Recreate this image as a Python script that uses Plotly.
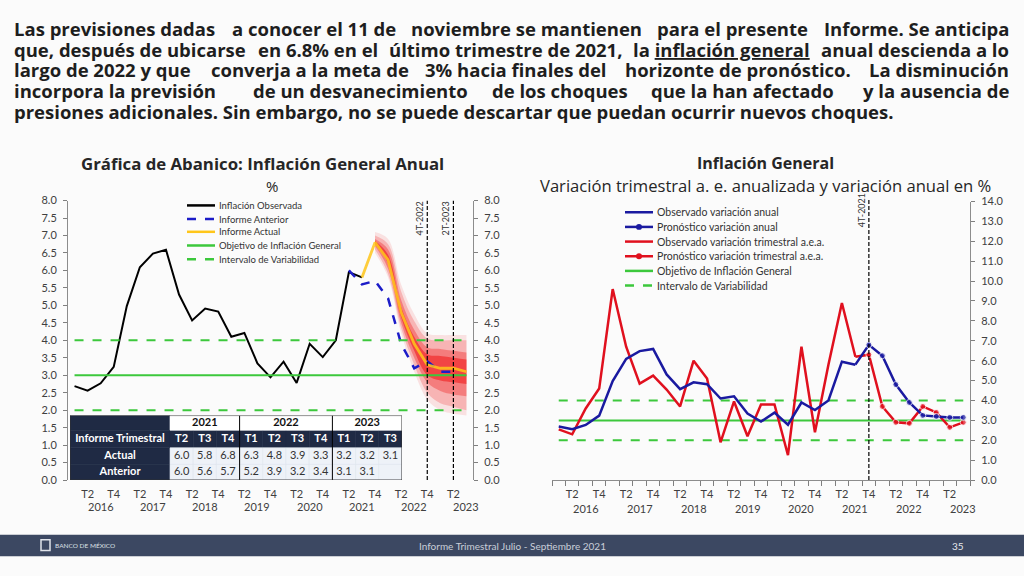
import plotly.graph_objects as go

W, H = 1024, 576


def px(x):
    return x / W


def py(y):
    return 1 - y / H


# ---------------------------------------------------------------- data
years = ["2016", "2017", "2018", "2019", "2020", "2021", "2022", "2023"]
quarter_names = ["T1", "T2", "T3", "T4"]
periods = [f"{q} {y}" for y in years for q in quarter_names][:31]  # T1 2016 .. T3 2023

# Left chart: annual headline inflation (%)
observed_annual = [2.69, 2.56, 2.77, 3.24, 4.98, 6.09, 6.48, 6.59, 5.31, 4.57, 4.91, 4.82,
                   4.10, 4.21, 3.34, 2.94, 3.39, 2.78, 3.90, 3.52, 4.00, 5.95, 5.80]
table_years = ["2021", "2022", "2023"]
table_year_span = [3, 4, 3]
table_quarters = ["T2", "T3", "T4", "T1", "T2", "T3", "T4", "T1", "T2", "T3"]
table_row_labels = ["Informe Trimestral", "Actual", "Anterior"]
report_actual = [6.0, 5.8, 6.8, 6.3, 4.8, 3.9, 3.3, 3.2, 3.2, 3.1]
report_previous = [6.0, 5.6, 5.7, 5.2, 3.9, 3.2, 3.4, 3.1, 3.1, None]

fan_glow_low = [6.50, 5.80, 4.20, 3.10, 2.30, 2.00, 1.90, 1.85]
fan_glow_high = [7.10, 6.90, 5.60, 4.75, 4.20, 4.15, 4.15, 4.15]
fan_outer_low = [6.60, 5.90, 4.35, 3.30, 2.50, 2.20, 2.10, 2.00]
fan_outer_high = [7.00, 6.75, 5.40, 4.55, 4.05, 4.00, 4.00, 4.00]
fan_mid_low = [6.70, 6.05, 4.50, 3.50, 2.80, 2.55, 2.45, 2.40]
fan_mid_high = [6.90, 6.60, 5.15, 4.30, 3.80, 3.75, 3.70, 3.65]
fan_inner_low = [6.75, 6.20, 4.65, 3.70, 3.00, 2.85, 2.80, 2.75]
fan_inner_high = [6.85, 6.45, 4.95, 4.10, 3.60, 3.55, 3.50, 3.45]

target_value = 3.0
interval_low = 2.0
interval_high = 4.0

left_marks = ["T4 2022", "T2 2023"]
left_mark_labels = ["4T-2022", "2T-2023"]

# Right chart: quarterly s.a. annualized and annual variation (%)
observed_quarterly = [2.55, 2.30, 3.60, 4.60, 9.60, 6.70, 4.85, 5.25, 4.55, 3.70, 6.00, 5.10,
                      1.90, 3.95, 2.20, 3.80, 3.80, 1.25, 6.70, 2.40, 5.80, 8.90, 6.20]
forecast_annual = [6.80, 6.25, 4.80, 3.90, 3.25, 3.20, 3.15, 3.15]
forecast_quarterly = [6.30, 3.70, 2.90, 2.85, 3.70, 3.40, 2.65, 2.90]
right_mark = "T4 2021"
right_mark_label = "4T-2021"

# ---------------------------------------------------------------- styles
FONT = "Lato, 'Open Sans', sans-serif"
BFONT = "'Open Sans', sans-serif"
TXT = "#262626"
TICK = "#404040"
NAVY = "#1f2a44"
CELL = "#eef2f8"
BLACK = "#000000"
BLUE_DASH = "#1c1cc8"
YELLOW = "#ffc61a"
GREEN = "#3cc83c"
BLUE = "#1a1aa0"
RED = "#e0101e"

fig = go.Figure()

fan_periods = periods[23:]
for lo, hi, alpha in [(fan_glow_low, fan_glow_high, 0.10),
                      (fan_outer_low, fan_outer_high, 0.20),
                      (fan_mid_low, fan_mid_high, 0.30),
                      (fan_inner_low, fan_inner_high, 0.45)]:
    fig.add_trace(go.Scatter(x=fan_periods, y=lo, mode="lines", xaxis="x", yaxis="y",
                             line=dict(width=0, shape="spline"), showlegend=False, hoverinfo="skip"))
    fig.add_trace(go.Scatter(x=fan_periods, y=hi, mode="lines", xaxis="x", yaxis="y",
                             line=dict(width=0, shape="spline"), fill="tonexty",
                             fillcolor=f"rgba(240,0,0,{alpha})", showlegend=False, hoverinfo="skip"))

left_series = [
    dict(name="Inflación Observada", color=BLACK, dash="solid"),
    dict(name="Informe Anterior", color=BLUE_DASH, dash="dash"),
    dict(name="Informe Actual", color=YELLOW, dash="solid"),
    dict(name="Objetivo de Inflación General", color=GREEN, dash="solid"),
    dict(name="Intervalo de Variabilidad", color=GREEN, dash="dash"),
]

for val, s in [(target_value, left_series[3]), (interval_low, left_series[4]), (interval_high, left_series[4])]:
    fig.add_trace(go.Scatter(x=periods, y=[val] * len(periods), mode="lines", xaxis="x", yaxis="y2",
                             line=dict(color=s["color"], width=2, dash=s["dash"]), name=s["name"],
                             showlegend=False))

fig.add_trace(go.Scatter(x=periods[:len(observed_annual)], y=observed_annual, mode="lines",
                         xaxis="x", yaxis="y", line=dict(color=BLACK, width=2),
                         name=left_series[0]["name"], showlegend=False))
fig.add_trace(go.Scatter(x=periods[21:30], y=report_previous[:9], mode="lines",
                         xaxis="x", yaxis="y", line=dict(color=BLUE_DASH, width=2.5, dash="dash"),
                         name=left_series[1]["name"], showlegend=False))
fig.add_trace(go.Scatter(x=periods[22:], y=report_actual[1:], mode="lines", opacity=0.85,
                         xaxis="x", yaxis="y", line=dict(color=YELLOW, width=2.8),
                         name=left_series[2]["name"], showlegend=False))

# ---------------------------------------------------------------- right chart
right_series = [
    dict(name="Observado variación anual", color=BLUE, dash="solid", marker=False),
    dict(name="Pronóstico variación anual", color=BLUE, dash="solid", marker=True),
    dict(name="Observado variación trimestral a.e.a.", color=RED, dash="solid", marker=False),
    dict(name="Pronóstico variación trimestral a.e.a.", color=RED, dash="solid", marker=True),
    dict(name="Objetivo de Inflación General", color=GREEN, dash="solid", marker=False),
    dict(name="Intervalo de Variabilidad", color=GREEN, dash="dash", marker=False),
]

for val, s in [(target_value, right_series[4]), (interval_low, right_series[5]), (interval_high, right_series[5])]:
    fig.add_trace(go.Scatter(x=periods, y=[val] * len(periods), mode="lines", xaxis="x2", yaxis="y3",
                             line=dict(color=s["color"], width=2, dash=s["dash"]), name=s["name"],
                             showlegend=False))

n_obs = len(observed_quarterly)
fig.add_trace(go.Scatter(x=periods[:n_obs], y=observed_quarterly, mode="lines", xaxis="x2", yaxis="y3",
                         line=dict(color=RED, width=2.5), name=right_series[2]["name"], showlegend=False))
fig.add_trace(go.Scatter(x=periods[n_obs - 1:], y=[observed_quarterly[-1]] + forecast_quarterly,
                         mode="lines+markers", xaxis="x2", yaxis="y3",
                         line=dict(color=RED, width=2.5),
                         marker=dict(size=[0] + [6] * len(forecast_quarterly), color=RED),
                         name=right_series[3]["name"], showlegend=False))
fig.add_trace(go.Scatter(x=periods[:n_obs], y=observed_annual, mode="lines", xaxis="x2", yaxis="y3",
                         line=dict(color=BLUE, width=2.5), name=right_series[0]["name"], showlegend=False))
fig.add_trace(go.Scatter(x=periods[n_obs - 1:], y=[observed_annual[-1]] + forecast_annual,
                         mode="lines+markers", xaxis="x2", yaxis="y3",
                         line=dict(color=BLUE, width=2.5),
                         marker=dict(size=[0] + [6] * len(forecast_annual), color=BLUE),
                         name=right_series[1]["name"], showlegend=False))

# ---------------------------------------------------------------- table (own hidden axes x3/y4)
LABEL_UNITS = 4.31                 # width of the label column, in quarter-column units
row_heights = [16, 17, 18, 15]     # Anterior, Actual, Informe Trimestral, years (bottom -> top)
row_edges = [0]
for h in row_heights:
    row_edges.append(row_edges[-1] + h)
row_mid = [(row_edges[i] + row_edges[i + 1]) / 2 for i in range(4)]
nq = len(table_quarters)
col_mid = [i + 0.5 for i in range(nq)]

shapes = []
annotations = []


def cell(x0, x1, r, color, line_color=None):
    shapes.append(dict(type="rect", xref="x3", yref="y4", x0=x0, x1=x1, y0=row_edges[r], y1=row_edges[r + 1],
                       fillcolor=color, line=dict(color=line_color or color, width=0.6), layer="below"))


for r in range(4):
    cell(-LABEL_UNITS, 0, r, NAVY)
for i in range(nq):
    cell(i, i + 1, 2, NAVY)
for i in range(nq):
    cell(i, i + 1, 1, CELL, "#dfe5ee")
    cell(i, i + 1, 0, CELL, "#dfe5ee")
start = 0
year_centres = []
for yname, span in zip(table_years, table_year_span):
    cell(start, start + span, 3, "white", "white")
    year_centres.append(start + span / 2)
    start += span
start = 0
for span in table_year_span[:-1]:
    start += span
    shapes.append(dict(type="line", xref="x3", yref="y4", x0=start, x1=start, y0=0, y1=row_edges[-1],
                       line=dict(color="black", width=1)))
shapes.append(dict(type="rect", xref="x3", yref="y4", x0=-LABEL_UNITS, x1=nq, y0=0, y1=row_edges[-1],
                   line=dict(color="#333333", width=1)))

tfont = dict(family=FONT, size=11)
fmt = lambda v: "" if v is None else f"{v:.1f}"
fig.add_trace(go.Scatter(x=year_centres, y=[row_mid[3]] * len(year_centres), mode="text",
                         text=[f"<b>{y}</b>" for y in table_years], xaxis="x3", yaxis="y4",
                         textfont=dict(color="#111111", **tfont), showlegend=False, hoverinfo="skip"))
fig.add_trace(go.Scatter(x=[-LABEL_UNITS / 2] * 3 + col_mid,
                         y=[row_mid[2], row_mid[1], row_mid[0]] + [row_mid[2]] * nq,
                         mode="text", text=[f"<b>{t}</b>" for t in table_row_labels + table_quarters],
                         xaxis="x3", yaxis="y4", textfont=dict(color="white", **tfont),
                         showlegend=False, hoverinfo="skip"))
fig.add_trace(go.Scatter(x=col_mid + col_mid, y=[row_mid[1]] * nq + [row_mid[0]] * nq, mode="text",
                         text=[fmt(v) for v in report_actual] + [fmt(v) for v in report_previous],
                         xaxis="x3", yaxis="y4", textfont=dict(color="#333333", **tfont),
                         showlegend=False, hoverinfo="skip"))

# ---------------------------------------------------------------- layout
tick_lbl = lambda p: p.split(" ")[0] if p.split(" ")[0] in ("T2", "T4") else ""
axis_font = dict(family=FONT, size=11, color=TICK)
common_y = dict(showgrid=False, zeroline=False, ticks="outside", ticklen=4, tickcolor="#7f7f7f",
                showline=True, linecolor="#8c8c8c", linewidth=1, tickfont=axis_font, tickformat=".1f",
                ticklabelstandoff=4)

fig.update_layout(
    width=W, height=H, margin=dict(l=0, r=0, t=0, b=0),
    paper_bgcolor="#fbfbfb", plot_bgcolor="rgba(0,0,0,0)", showlegend=False,
    font=dict(family=FONT, color=TXT),
    xaxis=dict(domain=[px(68), px(473)], anchor="y", type="category", categoryorder="array",
               categoryarray=periods, range=[-0.5, len(periods) - 0.5],
               tickvals=periods, ticktext=[tick_lbl(p) for p in periods], ticks="", tickangle=0,
               ticklabelstandoff=6,
               showline=False, showgrid=False, zeroline=False, tickfont=axis_font),
    yaxis=dict(domain=[py(484), py(198)], anchor="x", range=[0, 8], dtick=0.5, tick0=0, **common_y),
    yaxis2=dict(overlaying="y", side="right", anchor="x", range=[0, 8], dtick=0.5, tick0=0, **common_y),
    xaxis2=dict(domain=[px(552), px(970)], anchor="y3", type="category", categoryorder="array",
                categoryarray=periods, range=[-0.5, len(periods) - 0.5],
                tickvals=periods, ticktext=[tick_lbl(p) for p in periods], ticks="outside",
                tickson="boundaries", ticklen=5, tickcolor="#7f7f7f", tickangle=0,
                ticklabelstandoff=4,
                showline=True, linecolor="#8c8c8c", linewidth=1,
                showgrid=False, zeroline=False, tickfont=axis_font),
    yaxis3=dict(domain=[py(484), py(199)], anchor="x2", side="right", range=[0, 14], dtick=1, tick0=0,
                **common_y),
    xaxis3=dict(domain=[px(70), px(402)], anchor="y4", range=[-LABEL_UNITS, nq], visible=False,
                fixedrange=True),
    yaxis4=dict(domain=[py(484), py(418)], anchor="x3", range=[0, row_edges[-1]], visible=False,
                fixedrange=True),
)

# vertical forecast markers
for per, lbl in zip(left_marks, left_mark_labels):
    shapes.append(dict(type="line", xref="x", yref="y", x0=per, x1=per, y0=0, y1=8,
                       line=dict(color="black", width=1.2, dash="4px,2px")))
    annotations.append(dict(xref="x", yref="paper", x=per, y=py(216), text=lbl, textangle=-90,
                            yanchor="middle", showarrow=False, xshift=-8,
                            font=dict(size=9, color="#333333")))
shapes.append(dict(type="line", xref="x2", yref="paper", x0=right_mark, x1=right_mark,
                   y0=py(484), y1=py(197), line=dict(color="black", width=1.2, dash="4px,2px")))
annotations.append(dict(xref="x2", yref="paper", x=right_mark, y=py(208), text=right_mark_label,
                        textangle=-90, yanchor="middle", showarrow=False, xshift=-8,
                        font=dict(size=9, color="#333333")))

# year labels under the x axes
for y in years:
    per = f"T3 {y}"
    if per in periods:
        annotations.append(dict(xref="x", yref="paper", x=per, y=py(511), text=y, showarrow=False,
                                yanchor="middle", font=dict(size=11, color=TICK)))
        annotations.append(dict(xref="x2", yref="paper", x=per, y=py(513), text=y, showarrow=False,
                                yanchor="middle", font=dict(size=11, color=TICK)))


# manual legends
def legend(series, x0, x1, ys, size):
    for s, yc in zip(series, ys):
        shapes.append(dict(type="line", xref="paper", yref="paper", x0=px(x0), x1=px(x1),
                           y0=py(yc), y1=py(yc),
                           line=dict(color=s["color"], width=2.5,
                                     dash="dash" if s["dash"] == "dash" else "solid")))
        if s.get("marker"):
            xm = (x0 + x1) / 2
            shapes.append(dict(type="circle", xref="paper", yref="paper",
                               x0=px(xm - 3), x1=px(xm + 3), y0=py(yc + 3), y1=py(yc - 3),
                               fillcolor=s["color"], line=dict(width=0)))
        annotations.append(dict(xref="paper", yref="paper", x=px(x1 + 2), y=py(yc), text=s["name"],
                                xanchor="left", yanchor="middle", showarrow=False,
                                font=dict(size=size, color="#333333")))


legend(left_series, 187, 215, [203, 217, 230, 244, 258], 9.5)
legend(right_series, 625, 653, [210, 225, 240, 255, 270, 285], 10.5)

# chart titles
for x, y, t, s in [(262, 160, "<b>Gráfica de Abanico: Inflación General Anual</b>", 16.8),
                   (272, 183, "%", 15),
                   (765, 160, "<b>Inflación General</b>", 16),
                   (765, 183, "Variación trimestral a. e. anualizada y variación anual en %", 16.6)]:
    annotations.append(dict(xref="paper", yref="paper", x=px(x), y=py(y), text=t, showarrow=False,
                            xanchor="center", yanchor="middle",
                            font=dict(family=BFONT, size=s, color=TXT)))

# body text (justified approximation: chunks spread over the full width)
body_lines = [
    "Las previsiones dadas a conocer el 11 de noviembre se mantienen para el presente Informe. Se anticipa",
    "que, después de ubicarse en 6.8% en el último trimestre de 2021, la inflación\u00a0general anual descienda a lo",
    "largo de 2022 y que converja a la meta de 3% hacia finales del horizonte de pronóstico. La disminución",
    "incorpora la previsión de un desvanecimiento de los choques que la han afectado y la ausencia de",
    "presiones adicionales. Sin embargo, no se puede descartar que puedan ocurrir nuevos choques.",
]
body_y = [22, 43, 64, 85.5, 107]
BX0, BX1 = 12, 1011
body_font = dict(family=BFONT, size=18.5, color="#1e1e1e")
N_CHUNKS = 5

CHAR_W = {' ': 0.26, 'a': 0.60, 'b': 0.63, 'c': 0.51, 'd': 0.63, 'e': 0.60, 'f': 0.40, 'g': 0.56,
          'h': 0.66, 'i': 0.31, 'j': 0.31, 'k': 0.63, 'l': 0.31, 'm': 0.97, 'n': 0.66, 'o': 0.62,
          'p': 0.63, 'q': 0.63, 'r': 0.46, 's': 0.50, 't': 0.43, 'u': 0.66, 'v': 0.57, 'w': 0.86,
          'x': 0.60, 'y': 0.57, 'z': 0.49, '.': 0.29, ',': 0.29, '%': 0.88, 'I': 0.33, 'L': 0.53,
          'S': 0.54, '\u00a0': 0.26}
ACC = str.maketrans("áéíóú", "aeiou")


def est_w(t):
    return sum(CHAR_W.get(ch, 0.57 if ch.isdigit() else 0.65) for ch in t.translate(ACC))


def render(t):
    return "<b>" + t.replace("inflación\u00a0general", "<u>inflación general</u>") + "</b>"


for i, (line, yc) in enumerate(zip(body_lines, body_y)):
    if i == len(body_lines) - 1:
        annotations.append(dict(xref="paper", yref="paper", x=px(BX0), y=py(yc), xanchor="left",
                                yanchor="middle", text=render(line), showarrow=False, font=body_font))
        continue
    words = line.split(" ")
    total = est_w(line)
    sp = est_w(" ")
    groups = [[] for _ in range(N_CHUNKS)]
    starts = [None] * N_CHUNKS
    pos = 0.0
    for w in words:
        ww = est_w(w)
        g = min(int((pos + ww / 2) / total * N_CHUNKS), N_CHUNKS - 1)
        if starts[g] is None:
            starts[g] = pos
        groups[g].append(w)
        pos += ww + sp
    for g, (grp, st) in enumerate(zip(groups, starts)):
        if not grp:
            continue
        t = " ".join(grp)
        if g == 0:
            x, anchor = BX0, "left"
        elif g == N_CHUNKS - 1:
            x, anchor = BX1, "right"
        else:
            x, anchor = BX0 + (BX1 - BX0) * (st + est_w(t) / 2) / total, "center"
        annotations.append(dict(xref="paper", yref="paper", x=px(x), y=py(yc), xanchor=anchor,
                                yanchor="middle", text=render(t), showarrow=False, font=body_font))

# footer bar
shapes.append(dict(type="rect", xref="paper", yref="paper", x0=0, x1=1, y0=py(562), y1=py(540),
                   fillcolor="#3c4862", line=dict(width=0), layer="below"))
shapes.append(dict(type="rect", xref="paper", yref="paper", x0=px(41), x1=px(50), y0=py(556), y1=py(545),
                   fillcolor="rgba(0,0,0,0)", line=dict(color="#e0e3ea", width=1.5)))
for x, t, s, c, anchor in [(53, "BANCO DE MÉXICO", 6.5, "#dde0e6", "left"),
                           (512, "Informe Trimestral Julio - Septiembre 2021", 10, "#c9ced8", "center"),
                           (958, "35", 10, "#e6e8ee", "center")]:
    annotations.append(dict(xref="paper", yref="paper", x=px(x), y=py(551), xanchor=anchor,
                            yanchor="middle", text=t, showarrow=False, font=dict(size=s, color=c)))

fig.update_layout(shapes=shapes, annotations=annotations)
fig.write_html("out.html", config={"displayModeBar": False},
               post_script="document.body.style.margin='0px';document.body.style.overflow='hidden';")
